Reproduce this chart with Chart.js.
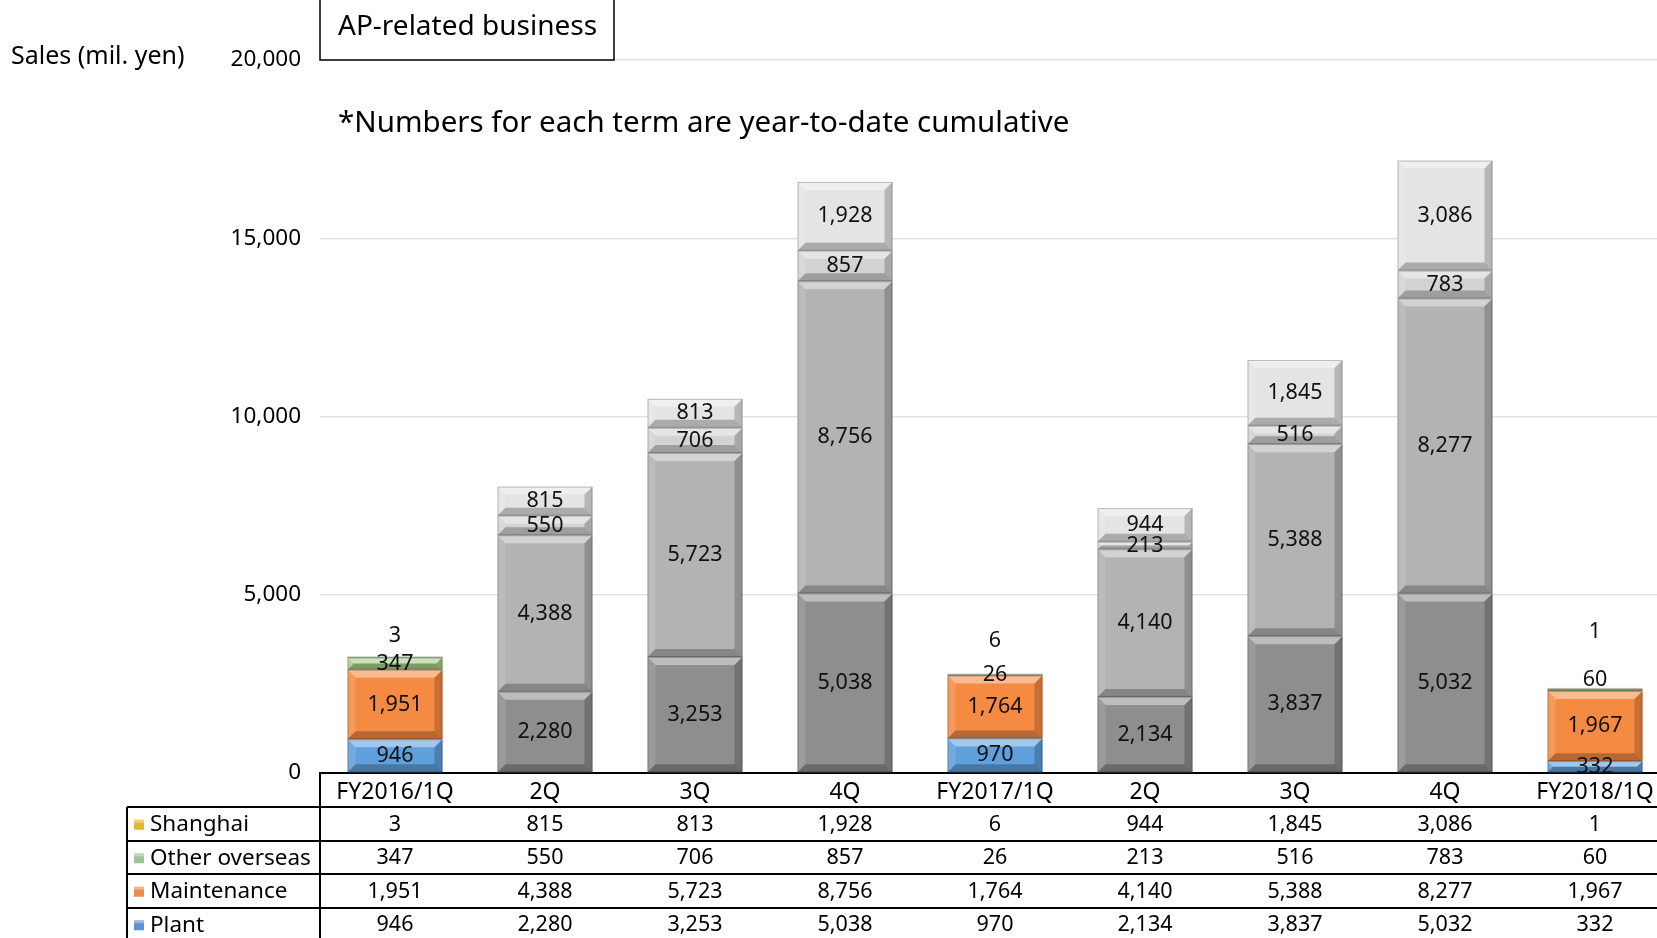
<!DOCTYPE html>
<html>
<head>
<meta charset="utf-8">
<script src="https://cdn.jsdelivr.net/npm/chart.js@4.4.0/dist/chart.umd.min.js"></script>
<style>
  html, body { margin: 0; padding: 0; background: #fff; overflow: hidden; }
  #wrap { position: relative; width: 1700px; height: 938px; }
</style>
</head>
<body>
<div id="wrap"><canvas id="apChart" width="1700" height="938"></canvas></div>
<script>
// year-to-date cumulative sales, mil. yen
const categories = ['FY2016/1Q', '2Q', '3Q', '4Q', 'FY2017/1Q', '2Q', '3Q', '4Q', 'FY2018/1Q'];
const plant = [946, 2280, 3253, 5038, 970, 2134, 3837, 5032, 332];
const maintenance = [1951, 4388, 5723, 8756, 1764, 4140, 5388, 8277, 1967];
const otherOverseas = [347, 550, 706, 857, 26, 213, 516, 783, 60];
const shanghai = [3, 815, 813, 1928, 6, 944, 1845, 3086, 1];
const yTicks = [0, 5000, 10000, 15000, 20000];
const isFirstQuarter = [true, false, false, false, true, false, false, false, true];

Chart.defaults.font.family = "'Noto Sans', 'DejaVu Sans', sans-serif";
Chart.defaults.color = '#000';

const fmt = v => Number(v).toLocaleString('en-US');

function colorsFor(color, grey) {
    return isFirstQuarter.map(q => q ? color : grey);
}

// small labels that were moved off their segments in the original
const labelLift = {
    'Shanghai': [21, 0, 0, 0, 34, 0, 0, 0, 57],
    'Other overseas': [0, 0, 0, 0, 0, 0, 0, 0, 10]
};

const datasets = [
    { label: 'Plant', data: plant, backgroundColor: colorsFor('#5f9fdc', '#8e8e8e'), legend: '#5b93cc' },
    { label: 'Maintenance', data: maintenance, backgroundColor: colorsFor('#f58b43', '#b3b3b3'), legend: '#e98a4f' },
    { label: 'Other overseas', data: otherOverseas, backgroundColor: colorsFor('#a6cf8a', '#d3d3d3'), legend: '#9cc69a' },
    { label: 'Shanghai', data: shanghai, backgroundColor: colorsFor('#f3c948', '#e4e4e4'), legend: '#e2b933' }
];

const TABLE = { left: 127, axisY: 773, catBottom: 807, rowH: 33.5 };

function bevel(ctx, x1, y1, x2, y2) {
    const h = y2 - y1, w = x2 - x1;
    const b = Math.min(8, h / 2, w / 2);
    if (b <= 0) return;
    const poly = (pts, fill) => {
        ctx.beginPath();
        ctx.moveTo(pts[0][0], pts[0][1]);
        for (let k = 1; k < pts.length; k++) ctx.lineTo(pts[k][0], pts[k][1]);
        ctx.closePath();
        ctx.fillStyle = fill;
        ctx.fill();
    };
    poly([[x1, y1], [x2, y1], [x2 - b, y1 + b], [x1 + b, y1 + b]], 'rgba(255,255,255,0.42)');
    poly([[x1, y1], [x1 + b, y1 + b], [x1 + b, y2 - b], [x1, y2]], 'rgba(255,255,255,0.12)');
    poly([[x2, y1], [x2, y2], [x2 - b, y2 - b], [x2 - b, y1 + b]], 'rgba(0,0,0,0.2)');
    poly([[x1, y2], [x1 + b, y2 - b], [x2 - b, y2 - b], [x2, y2]], 'rgba(0,0,0,0.25)');
    ctx.strokeStyle = 'rgba(0,0,0,0.22)';
    ctx.lineWidth = 1;
    ctx.strokeRect(x1 + 0.5, y1 + 0.5, w - 1, h - 1);
}

const barDecor = {
    id: 'barDecor',
    afterDatasetsDraw(chart) {
        const ctx = chart.ctx;
        ctx.save();
        chart.data.datasets.forEach((ds, i) => {
            const meta = chart.getDatasetMeta(i);
            meta.data.forEach(bar => {
                const p = bar.getProps(['x', 'y', 'base', 'width'], true);
                bevel(ctx, p.x - p.width / 2, Math.min(p.y, p.base), p.x + p.width / 2, Math.max(p.y, p.base));
            });
        });
        // value labels
        ctx.font = "21.5px 'Noto Sans', sans-serif";
        ctx.fillStyle = '#111';
        ctx.textAlign = 'center';
        ctx.textBaseline = 'middle';
        chart.data.datasets.forEach((ds, i) => {
            const meta = chart.getDatasetMeta(i);
            const lift = labelLift[ds.label] || [];
            meta.data.forEach((bar, j) => {
                const p = bar.getProps(['x', 'y', 'base'], true);
                ctx.fillText(fmt(ds.data[j]), p.x, (p.y + p.base) / 2 - (lift[j] || 0));
            });
        });
        ctx.restore();
    }
};

const tableAndTitles = {
    id: 'tableAndTitles',
    afterDraw(chart) {
        const ctx = chart.ctx;
        const W = chart.width;
        const xs = chart.scales.x;
        const left = chart.chartArea.left;
        ctx.save();

        // title box
        ctx.fillStyle = '#fff';
        ctx.fillRect(left, -2, 294, 62);
        ctx.strokeStyle = '#000';
        ctx.lineWidth = 1.5;
        ctx.strokeRect(left, -2, 294, 62);
        ctx.fillStyle = '#000';
        ctx.textBaseline = 'middle';
        ctx.textAlign = 'left';
        ctx.font = "28px 'Noto Sans', sans-serif";
        ctx.fillText('AP-related business', left + 18, 27);
        ctx.font = "29.5px 'Noto Sans', sans-serif";
        ctx.fillText('*Numbers for each term are year-to-date cumulative', left + 18, 124);
        ctx.font = "25px 'Noto Sans', sans-serif";
        ctx.fillText('Sales (mil. yen)', 11, 57);

        // data table
        ctx.strokeStyle = '#000';
        ctx.lineWidth = 2;
        const rows = datasets.slice().reverse();
        ctx.beginPath();
        ctx.moveTo(left, TABLE.axisY);
        ctx.lineTo(left, 938);
        ctx.moveTo(TABLE.left, TABLE.catBottom);
        ctx.lineTo(TABLE.left, 938);
        for (let r = 0; r <= rows.length; r++) {
            const y = Math.round(TABLE.catBottom + r * TABLE.rowH);
            ctx.moveTo(TABLE.left, y);
            ctx.lineTo(W, y);
        }
        ctx.stroke();

        rows.forEach((ds, r) => {
            const cy = TABLE.catBottom + (r + 0.5) * TABLE.rowH + 1;
            ctx.fillStyle = ds.legend;
            ctx.fillRect(TABLE.left + 7, cy - 5, 10, 10);
            ctx.fillStyle = 'rgba(255,255,255,0.35)';
            ctx.fillRect(TABLE.left + 7, cy - 5, 10, 3);
            ctx.fillStyle = '#000';
            ctx.textAlign = 'left';
            ctx.font = "22.5px 'Noto Sans', sans-serif";
            ctx.fillText(ds.label, TABLE.left + 23, cy);
            ctx.textAlign = 'center';
            ctx.font = "21.5px 'Noto Sans', sans-serif";
            ds.data.forEach((v, j) => {
                ctx.fillText(fmt(v), xs.getPixelForValue(j), cy);
            });
        });
        ctx.restore();
    }
};

new Chart(document.getElementById('apChart'), {
    type: 'bar',
    data: { labels: categories, datasets: datasets },
    options: {
        responsive: false,
        animation: false,
        layout: { padding: { top: 60, right: 30, bottom: 0, left: 0 } },
        datasets: { bar: { barPercentage: 0.633, categoryPercentage: 1.0, borderWidth: 0 } },
        plugins: {
            legend: { display: false },
            tooltip: { enabled: false }
        },
        scales: {
            x: {
                stacked: true,
                grid: { display: false, drawTicks: false },
                border: { display: true, color: '#000', width: 2 },
                ticks: { font: { size: 23 }, color: '#000', padding: 6, maxRotation: 0, autoSkip: false },
                afterFit(scale) { scale.height = 938 - TABLE.axisY; }
            },
            y: {
                stacked: true,
                min: yTicks[0],
                max: yTicks[yTicks.length - 1],
                afterBuildTicks(scale) { scale.ticks = yTicks.map(v => ({ value: v })); },
                grid: { color: '#e3e3e3', lineWidth: 1.5, drawTicks: false },
                border: { display: false },
                ticks: { font: { size: 22.5 }, color: '#000', padding: 19, callback: v => fmt(v) },
                afterFit(scale) { scale.width = 320; }
            }
        }
    },
    plugins: [barDecor, tableAndTitles]
});
</script>
</body>
</html>
